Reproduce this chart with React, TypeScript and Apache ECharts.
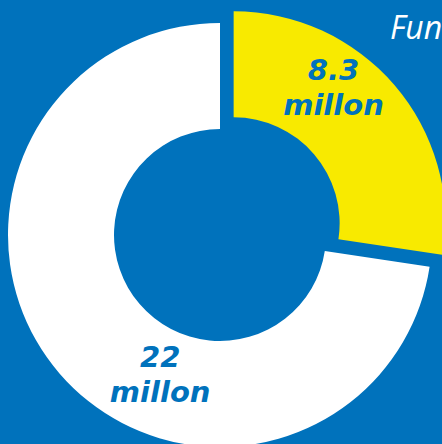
import React, { useEffect, useRef } from "react";
import * as echarts from "echarts";

const categories = ["8.3 millon", "22 millon"];
const values = [8.3, 22];
const valueLabels = ["8.3", "22"];
const unitLabel = "millon";
const sliceColors = ["#F8EA00", "#FFFFFF"];
const titleText = "Fun";

export default function App() {
  const ref = useRef<HTMLDivElement>(null);
  useEffect(() => {
    if (!ref.current) return;
    const chart = echarts.init(ref.current, undefined, { renderer: "svg" });
    const labelShift = [
      { dx: -23, dy: -30 },
      { dx: 63, dy: 34 },
    ];
    const txt = {
      fontFamily: "DejaVu Sans",
      fontStyle: "italic",
      fontWeight: "bold",
      fontSize: 29,
      color: "#0072BC",
      lineHeight: 35,
      align: "center",
    };
    chart.setOption({
      animation: false,
      backgroundColor: "#0072BC",
      graphic: [
        {
          type: "text",
          left: 390,
          top: 10,
          style: {
            text: titleText,
            fill: "#FFFFFF",
            fontFamily: "Open Sans",
            fontStyle: "italic",
            fontWeight: 400,
            fontSize: 32,
          },
        },
      ],
      series: [
        {
          type: "pie",
          center: [220, 235],
          radius: [106, 212],
          startAngle: 90,
          clockwise: true,
          selectedMode: "single",
          selectedOffset: 18,
          avoidLabelOverlap: false,
          emphasis: { disabled: true },
          labelLine: { show: false },
          label: {
            show: true,
            position: "inside",
            formatter: (p: any) => `{a|${valueLabels[p.dataIndex]}}\n{b|${unitLabel}}`,
            rich: { a: txt, b: txt },
          },
          labelLayout: (params: any) => labelShift[params.dataIndex],
          data: values.map((v, i) => ({
            name: categories[i],
            value: v,
            selected: i === 0,
            itemStyle: { color: sliceColors[i] },
          })),
        },
      ],
    });
    return () => chart.dispose();
  }, []);
  return (
    <div
      ref={ref}
      style={{ position: "fixed", left: 0, top: 0, width: 442, height: 444 }}
    />
  );
}
